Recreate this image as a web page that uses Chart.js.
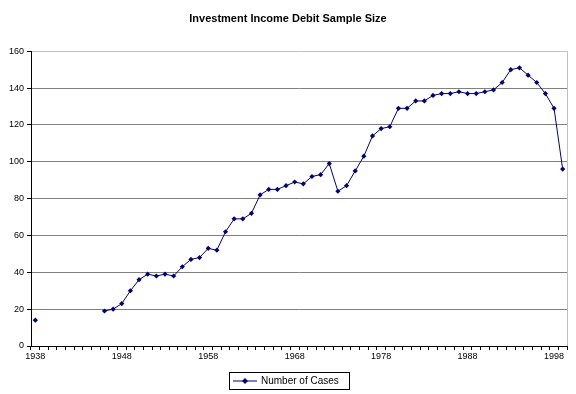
<!DOCTYPE html>
<html>
<head>
<meta charset="utf-8">
<script src="https://cdn.jsdelivr.net/npm/chart.js@4"></script>
<style>
  body { margin: 0; background: #fff; }
  canvas { display: block; }
</style>
</head>
<body>
<canvas id="chart" width="576" height="394"></canvas>
<script>
const years = [
    '1938', '1939', '1940', '1941', '1942', '1943', '1944', '1945', '1946', '1947',
    '1948', '1949', '1950', '1951', '1952', '1953', '1954', '1955', '1956', '1957',
    '1958', '1959', '1960', '1961', '1962', '1963', '1964', '1965', '1966', '1967',
    '1968', '1969', '1970', '1971', '1972', '1973', '1974', '1975', '1976', '1977',
    '1978', '1979', '1980', '1981', '1982', '1983', '1984', '1985', '1986', '1987',
    '1988', '1989', '1990', '1991', '1992', '1993', '1994', '1995', '1996', '1997',
    '1998', '1999'
];

const numberOfCases = [
    14, null, null, null, null, null, null, null, 19, 20,
    23, 30, 36, 39, 38, 39, 38, 43, 47, 48,
    53, 52, 62, 69, 69, 72, 82, 85, 85, 87,
    89, 88, 92, 93, 99, 84, 87, 95, 103, 114,
    118, 119, 129, 129, 133, 133, 136, 137, 137, 138,
    137, 137, 138, 139, 143, 150, 151, 147, 143, 137,
    129, 96
];

// labels shown on the category axis (every 10th year)
const shownYears = ['1938', '1948', '1958', '1968', '1978', '1988', '1998'];

const NAVY = '#000080';
const FONT = 'Arial, "Liberation Sans", sans-serif';

// right border of the plot area, plus an Excel style boxed legend under the axis
const frames = {
    id: 'frames',
    afterDraw(chart) {
        const { ctx, chartArea } = chart;
        ctx.save();
        ctx.strokeStyle = '#c0c0c0';
        ctx.lineWidth = 1;
        ctx.beginPath();
        ctx.moveTo(Math.round(chartArea.right) + 0.5, chartArea.top);
        ctx.lineTo(Math.round(chartArea.right) + 0.5, chartArea.bottom);
        ctx.stroke();

        const label = chart.data.datasets[0].label;
        ctx.font = '10px ' + FONT;
        const textW = ctx.measureText(label).width;
        const w = Math.round(6 + 24 + 4 + textW + 8);
        const left = Math.round(chart.width / 2 - w / 2) + 1;
        const top = 372;
        const h = 17;
        const cy = top + h / 2 + 0.5;

        ctx.strokeStyle = '#000';
        ctx.strokeRect(left + 0.5, top + 0.5, w, h);

        ctx.strokeStyle = NAVY;
        ctx.beginPath();
        ctx.moveTo(left + 4, cy);
        ctx.lineTo(left + 28, cy);
        ctx.stroke();
        ctx.fillStyle = NAVY;
        ctx.beginPath();
        ctx.moveTo(left + 16, cy - 3);
        ctx.lineTo(left + 19, cy);
        ctx.lineTo(left + 16, cy + 3);
        ctx.lineTo(left + 13, cy);
        ctx.closePath();
        ctx.fill();

        ctx.fillStyle = '#000';
        ctx.textBaseline = 'middle';
        ctx.textAlign = 'left';
        ctx.fillText(label, left + 32, cy);
        ctx.restore();
    }
};

new Chart(document.getElementById('chart'), {
    type: 'line',
    data: {
        labels: years,
        datasets: [{
            label: 'Number of Cases',
            data: numberOfCases,
            borderColor: NAVY,
            backgroundColor: NAVY,
            borderWidth: 1,
            pointStyle: 'rectRot',
            pointRadius: 2.6,
            pointBorderWidth: 0,
            tension: 0,
            spanGaps: false
        }]
    },
    options: {
        responsive: false,
        animation: false,
        layout: { padding: { left: 9, right: 9, top: 0, bottom: 24 } },
        plugins: {
            title: {
                display: true,
                text: 'Investment Income Debit Sample Size',
                color: '#000',
                font: { family: FONT, size: 11, weight: 'bold' },
                padding: { top: 12, bottom: 26 }
            },
            legend: { display: false },
            tooltip: { enabled: false }
        },
        scales: {
            x: {
                offset: true,
                grid: {
                    offset: true,
                    drawOnChartArea: false,
                    drawTicks: true,
                    tickLength: 4,
                    color: '#000'
                },
                border: { display: true, color: '#000', width: 1 },
                ticks: {
                    autoSkip: false,
                    maxRotation: 0,
                    padding: 1,
                    color: '#000',
                    font: { family: FONT, size: 9 },
                    callback(value) {
                        const y = this.getLabelForValue(value);
                        return shownYears.includes(y) ? y : '';
                    }
                },
                afterFit(scale) { scale.height = 24; }
            },
            y: {
                min: 0,
                max: 160,
                grid: {
                    color: ctx => ctx.tick && ctx.tick.value === 160 ? '#c0c0c0' : '#808080',
                    tickLength: 4,
                    tickColor: '#000'
                },
                border: { display: true, color: '#000', width: 1 },
                ticks: {
                    stepSize: 20,
                    padding: 3,
                    color: '#000',
                    font: { family: FONT, size: 9 }
                },
                afterFit(scale) { scale.width = 22; }
            }
        }
    },
    plugins: [frames]
});
</script>
</body>
</html>
